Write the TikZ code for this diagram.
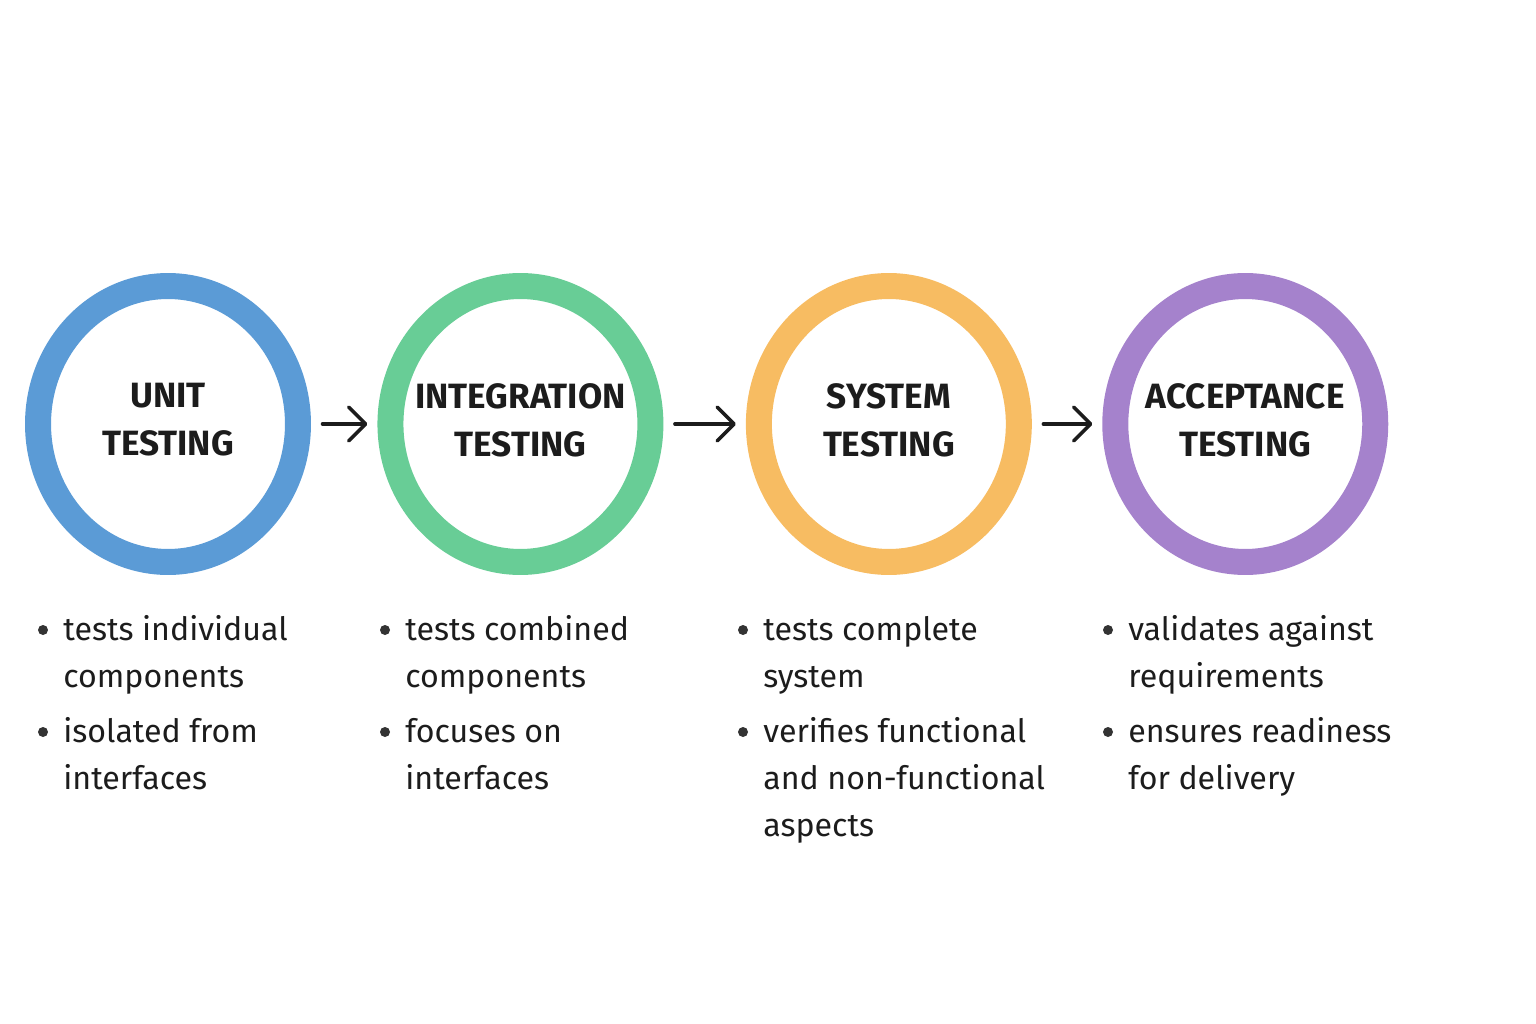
\documentclass[tikz,border=0pt]{standalone}
\usepackage{fontspec}
\setmainfont{Fira Sans}
\usepackage{xcolor}
\definecolor{ublue}{HTML}{5B9BD6}
\definecolor{igreen}{HTML}{68CD96}
\definecolor{sorange}{HTML}{F7BC62}
\definecolor{apurple}{HTML}{A582CC}
\definecolor{ink}{HTML}{1C1C1C}
\usetikzlibrary{positioning,calc,shapes.geometric,arrows.meta}
\tikzset{
    stage/.style={
    ellipse,draw=#1,line width=0.52cm,minimum width=5.2cm,minimum height=5.52cm,
    inner sep=0pt,outer sep=0.26cm
    },
    title/.style={
    align=center,text=ink,inner sep=0pt,
    font=\fontsize{20}{27.3}\selectfont\bfseries
    },
  line/.style={draw=ink, line width=0.07cm, line cap=round, -{Straight Barb[round,length=0.34cm,width=0.68cm]}, shorten <=0.23cm, shorten >=0.2cm},
  item/.style={anchor=base west, inner sep=0pt, align=left, text=ink, font=\fontsize{18.3}{26.65}\selectfont},
  dot/.style={circle, fill=ink!90, inner sep=0pt, minimum size=0.2cm}
}
\begin{document}
\begin{tikzpicture}[x=0.02cm,y=-0.02cm]
    \useasboundingbox (0,0) rectangle (1536,1024);

    \node[stage=ublue] (unit) at (168,424) {};
    \node[stage=igreen,right of=unit,node distance=7.05cm] (integ) {};
    \node[stage=sorange,right of=integ,node distance=7.37cm] (system) {};
    \node[stage=apurple,right of=system,node distance=7.13cm] (accept) {};

    \node[title] (unitt) at ([shift={(0,-4)}]unit) {UNIT\\TESTING};
    \node[title] (integt) at ([shift={(0,-4)}]integ) {INTEGRATION\\TESTING};
    \node[title] (systemt) at ([shift={(0,-4)}]system) {SYSTEM\\TESTING};
    \node[title] (acceptt) at ([shift={(0,-4)}]accept) {ACCEPTANCE\\TESTING};

    % anchored on the baseline of the last line
    \node[item] (unita) at (63,687) {tests individual\\components};
    \node[item] (unitb) at (63,789) {isolated from\\interfaces};
    \node[item] (intega) at (405,687) {tests combined\\components};
    \node[item] (integb) at (405,789) {focuses on\\interfaces};
    \node[item] (systema) at (763,687) {tests complete\\system};
    \node[item] (systemb) at (763,836) {verifies functional\\and non-functional\\aspects};
    \node[item] (accepta) at (1128,687) {validates against\\requirements};
    \node[item] (acceptb) at (1128,789) {ensures readiness\\for delivery};

    \foreach \n/\k in {unita/1,unitb/1,intega/1,integb/1,systema/1,systemb/2,accepta/1,acceptb/1}
      \node[dot] (\n dot) at ([shift={(-20,-10-47*\k)}]\n.base west) {};

    \begin{scope} [every path/.style=line]
      \path (unit) -- (integ);
      \path (integ) -- (system);
      \path (system) -- (accept);
    \end{scope}

  \end{tikzpicture}
\end{document}
